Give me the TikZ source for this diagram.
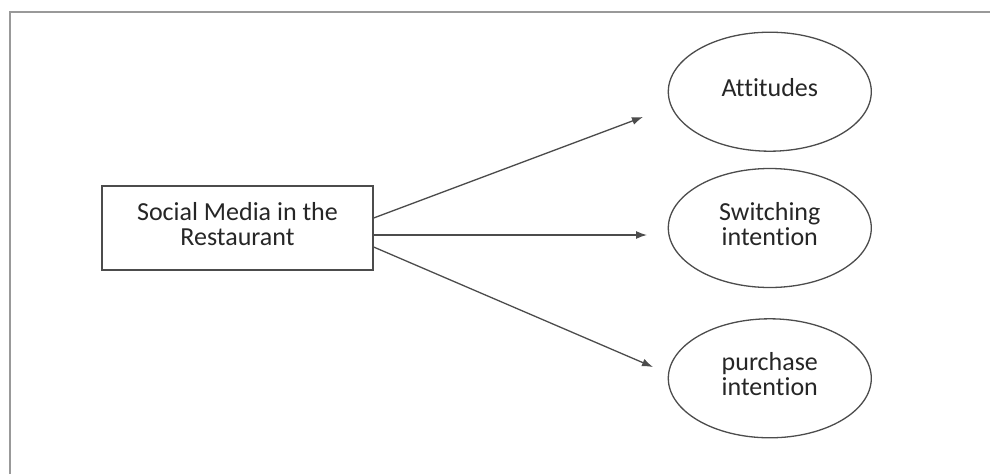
\documentclass[tikz,border=0pt]{standalone}
\usepackage{fontspec}
\setmainfont{Carlito}[Ligatures=NoCommon]
\usepackage{tikz}
\usetikzlibrary{shapes.geometric, arrows.meta, positioning}
\tikzset{
    factor/.style={rectangle, draw=black!70, line width=1.3pt, fill=white, minimum width=271pt, minimum height=84pt, align=center, text depth=8pt, text=black!85, font=\fontsize{26}{25}\selectfont},
    outcome/.style={ellipse, draw=black!70, line width=1.3pt, fill=white, minimum width=203pt, minimum height=119pt, align=center, text depth=8pt, text=black!85, font=\fontsize{26}{25}\selectfont},
    arrow/.style={-{Latex[length=11pt, width=8pt]}, line width=1.3pt, draw=black!70},
    frame/.style={draw=black!40, line width=2pt}
}

\begin{document}
\begin{tikzpicture}[x=1pt, y=-1pt]
            \useasboundingbox (0,0) rectangle (990,474);
            \draw[frame] (10,474) -- (10,12) -- (990,12);

            \node (media) [factor] at (237.5,228) {Social Media in the\\Restaurant};
            \node (switching) [outcome, right=294pt of media] {Switching\\intention};
            \node (attitudes) [outcome, above=16pt of switching] {Attitudes};
            \node (purchase) [outcome, below=30pt of switching] {purchase\\intention};

            \coordinate (attTip) at (643,117);
            \coordinate (swTip) at (647,235);
            \coordinate (purTip) at (653,367);

            \draw[arrow] ([yshift=10pt]media.east) -- (attTip);
            \draw[arrow] ([yshift=-7pt]media.east) -- (swTip);
            \draw[arrow] ([yshift=-19pt]media.east) -- (purTip);
        \end{tikzpicture}
\end{document}
